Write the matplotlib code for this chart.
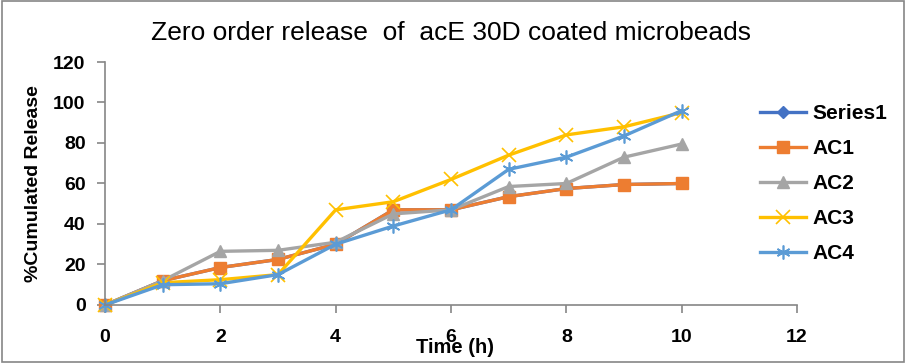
import matplotlib.pyplot as plt
from matplotlib.patches import Rectangle

plt.rcParams['font.family'] = ['Liberation Sans', 'DejaVu Sans']

# -------------------------------
# DATA
# -------------------------------
time_h = [0, 1, 2, 3, 4, 5, 6, 7, 8, 9, 10]
series1 = [0, 12, 18.5, 22.5, 30, 47, 47, 53.5, 57.5, 59.5, 60]
ac1 = [0, 12, 18.5, 22.5, 30, 47, 47, 53.5, 57.5, 59.5, 60]
ac2 = [0, 12, 26.5, 27, 31, 45, 47, 58.5, 60, 73, 79.5]
ac3 = [0, 11, 12.5, 15, 47, 51, 62, 74, 84, 88, 95]
ac4 = [0, 10, 10.5, 15, 30, 39, 47, 67, 73, 83.5, 96]

names = ["Series1", "AC1", "AC2", "AC3", "AC4"]
colors = ["#4472C4", "#ED7D31", "#A5A5A5", "#FFC000", "#5B9BD5"]
markers = ["D", "s", "^", "x", (6, 2, 0)]
msizes = [6, 9, 9, 10, 10]

# -------------------------------
# FIGURE
# -------------------------------
fig = plt.figure(figsize=(9.06, 3.63), dpi=100)
ax = fig.add_axes([0.1159, 0.1598, 0.7638, 0.6694])

for vals, name, c, m, ms in zip([series1, ac1, ac2, ac3, ac4], names, colors, markers, msizes):
    ax.plot(time_h, vals, color=c, lw=2.4, marker=m, ms=ms,
            mew=1.2 if m in ("x", (6, 2, 0)) else 1, label=name,
            clip_on=False)

ax.set_xlim(0, 12)
ax.set_ylim(0, 120)
ax.set_xticks(range(0, 13, 2))
ax.set_yticks(range(0, 121, 20))

for s in ["top", "right"]:
    ax.spines[s].set_visible(False)
for s in ["left", "bottom"]:
    ax.spines[s].set_color("#868686")
    ax.spines[s].set_linewidth(1.2)

ax.tick_params(axis="both", colors="#868686", length=6, width=1.2,
               labelcolor="black", labelsize=14)
ax.tick_params(axis="x", direction="out", pad=11)
ax.tick_params(axis="y", direction="out", pad=8)
for lbl in ax.get_xticklabels() + ax.get_yticklabels():
    lbl.set_fontweight("bold")

ax.set_ylabel("%Cumulated Release", fontsize=14, fontweight="bold", labelpad=8)
fig.text(0.502, 0.044, "Time (h)", fontsize=14.5, fontweight="bold",
         ha="center", va="center")

fig.text(0.498, 0.909, "Zero order release  of  acE 30D coated microbeads",
         fontsize=19, ha="center", va="center")

leg = ax.legend(loc="upper left", bbox_to_anchor=(0.92, 0.905), frameon=False,
                prop={"size": 15, "weight": "bold"}, handlelength=2.2,
                labelspacing=0.77, handletextpad=0.3)

# figure border
fig.patches.append(Rectangle((0.002, 0.003), 0.996, 0.994, transform=fig.transFigure,
                             fill=False, edgecolor="#868686", lw=1.2))

fig.savefig("out.png", dpi=100)
